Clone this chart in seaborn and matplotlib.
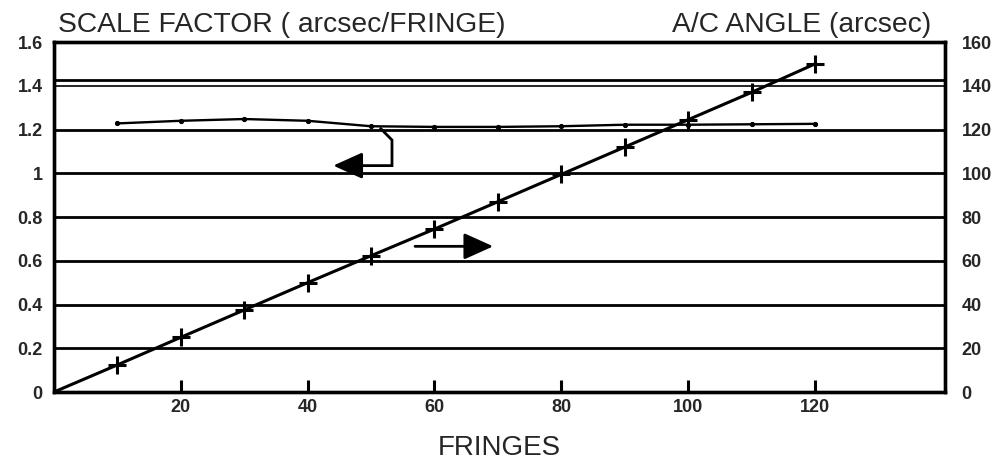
import matplotlib
matplotlib.use("Agg")
import pandas as pd
import matplotlib.pyplot as plt
import seaborn as sns

# fringes counted
fringes = [10, 20, 30, 40, 50, 60, 70, 80, 90, 100, 110, 120]
# scale factor (arcsec/fringe), left axis
scale_factor = [1.228, 1.240, 1.248, 1.240, 1.215, 1.212, 1.212, 1.215, 1.222, 1.222, 1.224, 1.226]
# A/C angle (arcsec), right axis
ac_angle = [12.4, 25.0, 37.5, 50.0, 62.3, 74.5, 87.0, 99.5, 112.0, 124.5, 137.0, 150.0]

left_ticks = [0, 0.2, 0.4, 0.6, 0.8, 1, 1.2, 1.4, 1.6]
left_labels = ["0", "0.2", "0.4", "0.6", "0.8", "1", "1.2", "1.4", "1.6"]
right_ticks = [0, 20, 40, 60, 80, 100, 120, 140, 160]
x_ticks = [0, 20, 40, 60, 80, 100, 120]

df_sf = pd.DataFrame({"fringes": fringes, "scale": scale_factor})
df_ac = pd.DataFrame({"fringes": [0] + fringes, "angle": [0] + ac_angle})

sns.set_style("white")
plt.rcParams["font.family"] = ["Liberation Sans", "DejaVu Sans"]

rect = [0.0543, 0.1515, 0.8964, 0.7575]
fig = plt.figure(figsize=(9.94, 4.62), dpi=100)
ax = fig.add_axes(rect)

sns.lineplot(data=df_sf, x="fringes", y="scale", ax=ax, color="black", lw=1.7,
             marker="o", markersize=3, markeredgecolor="black", zorder=3)
ax.set_xlim(0, 140.5)
ax.set_ylim(0, 1.6)
ax.set_xticks(x_ticks)
ax.set_xticklabels([str(t) for t in x_ticks], fontsize=13, fontweight="bold")
ax.set_yticks(left_ticks)
ax.set_yticklabels(left_labels, fontsize=13, fontweight="bold")
ax.set_xlabel("FRINGES", fontsize=20, labelpad=14)
ax.set_ylabel("")

# horizontal rules
for y in [0.2, 0.4, 0.6, 0.8, 1.0, 1.2]:
    ax.axhline(y, color="black", lw=2.0, zorder=1)
ax.axhline(1.4, color="black", lw=1.2, zorder=1)
ax.axhline(1.425, color="black", lw=2.0, zorder=1)

ax2 = ax.twinx()
sns.lineplot(data=df_ac, x="fringes", y="angle", ax=ax2, color="black", lw=2.2,
             marker="+", markersize=13, markeredgewidth=2.2,
             markeredgecolor="black", zorder=4)
ax2.set_ylim(0, 160)
ax2.set_yticks(right_ticks)
ax2.set_yticklabels([str(t) for t in right_ticks], fontsize=13, fontweight="bold")
ax2.set_ylabel("")

for a in (ax, ax2):
    for s in a.spines.values():
        s.set_linewidth(2.4)
        s.set_edgecolor("black")

# arrow pointing to the left axis
ax.plot([51.5, 53.3, 53.3, 47.0], [1.205, 1.152, 1.035, 1.035], color="black", lw=2.0,
        solid_joinstyle="miter", zorder=3)
ax.annotate("", xy=(43.6, 1.035), xytext=(48.0, 1.035),
            arrowprops=dict(arrowstyle="-|>,head_length=1.0,head_width=0.45",
                            mutation_scale=18, color="black", lw=2.0))
# arrow pointing to the right axis
ax.annotate("", xy=(69.7, 0.666), xytext=(56.5, 0.666),
            arrowprops=dict(arrowstyle="-|>,head_length=1.0,head_width=0.45",
                            mutation_scale=18, color="black", lw=2.0))

fig.text(0.058, 0.93, "SCALE FACTOR ( arcsec/FRINGE)", fontsize=20.3, ha="left", va="baseline")
fig.text(0.937, 0.93, "A/C ANGLE (arcsec)", fontsize=20.3, ha="right", va="baseline")

ax2.tick_params(axis="y", which="both", right=False, length=0, pad=12)
ax.tick_params(axis="y", which="both", left=False, length=0, pad=8)
ax.tick_params(axis="x", which="major", bottom=False, length=0, pad=5)

# transparent overlay that only carries the inward fringe tick marks
ax3 = fig.add_axes(rect, sharex=ax, zorder=10)
ax3.patch.set_visible(False)
for s in ax3.spines.values():
    s.set_visible(False)
ax3.set_yticks([])
ax3.set_xticks(x_ticks[1:])
ax3.tick_params(axis="x", which="major", bottom=True, top=False, direction="in",
                length=9, width=2.2, color="black", labelbottom=False)

fig.savefig("out.png", dpi=100)
